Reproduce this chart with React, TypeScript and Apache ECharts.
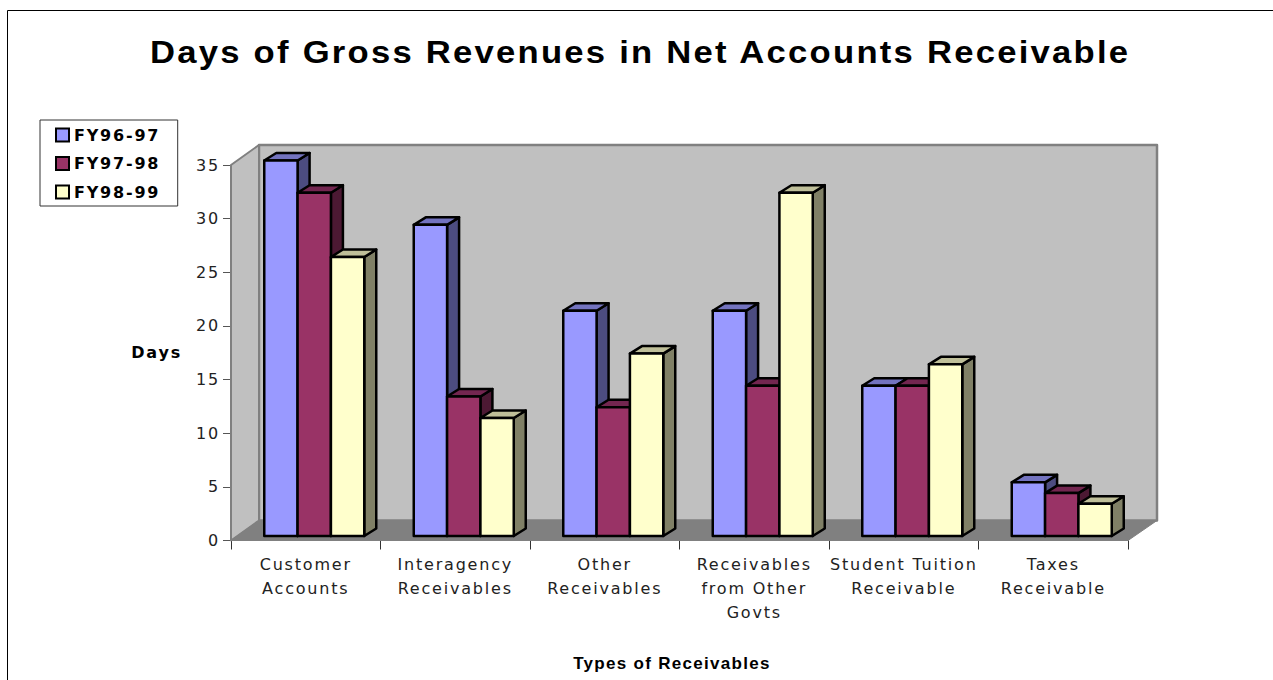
import React, { useEffect, useRef } from "react";
import * as echarts from "echarts";

const titleText = "Days of Gross Revenues in Net Accounts Receivable";
const categories = [
  "Customer\nAccounts",
  "Interagency\nReceivables",
  "Other\nReceivables",
  "Receivables\nfrom Other\nGovts",
  "Student Tuition\nReceivable",
  "Taxes\nReceivable",
];
const seriesNames = ["FY96-97", "FY97-98", "FY98-99"];
const fy9697 = [35, 29, 21, 21, 14, 5];
const fy9798 = [32, 13, 12, 14, 14, 4];
const fy9899 = [26, 11, 17, 32, 16, 3];
const seriesValues = [fy9697, fy9798, fy9899];
const frontColors = ["#9999FF", "#993366", "#FFFFCC"];
const topColors = ["#7373BF", "#732650", "#BFBF99"];
const sideColors = ["#4C4C80", "#4C1933", "#808066"];

const WALL_DX = 28;
const WALL_DY = 20;
const BAR_DX = 12;
const BAR_DY = 7.5;
const BAR_SHIFT_X = 8.5;
const BAR_SHIFT_Y = 4.5;
const BAR_FRACTION = 100 / 149.5 / 3;

const poly = (points: number[][], fill: string, stroke: string, lineWidth: number) => ({
  type: "polygon",
  shape: { points },
  style: { fill, stroke, lineWidth, lineJoin: "round" },
});

function renderWalls(_params: any, api: any) {
  const band = api.size([1, 0])[0];
  const [c0, t] = api.coord([0, 35]);
  const [c5, b] = api.coord([5, 0]);
  const l = c0 - band / 2;
  const r = c5 + band / 2;
  const dx = WALL_DX;
  const dy = -WALL_DY;
  return {
    type: "group",
    children: [
      poly([[l + dx, t + dy], [r + dx + 1, t + dy], [r + dx + 1, b + dy], [l + dx, b + dy]], "#C0C0C0", "#808080", 2.5),
      poly([[l, t], [l + dx, t + dy], [l + dx, b + dy], [l, b]], "#C0C0C0", "#808080", 2),
      poly([[l, b], [l + dx, b + dy], [r + dx + 1, b + dy], [r, b]], "#808080", "#808080", 1),
    ],
  };
}

const makeRenderBar = (s: number) => (_params: any, api: any) => {
  const idx = api.value(0);
  const val = api.value(1);
  const [cx, top0] = api.coord([idx, val]);
  const [, base0] = api.coord([idx, 0]);
  const bw = api.size([1, 0])[0] * BAR_FRACTION;
  const x0 = cx + BAR_SHIFT_X + (s - 1.5) * bw;
  const x1 = x0 + bw;
  const top = top0 - BAR_SHIFT_Y;
  const base = base0 - BAR_SHIFT_Y;
  return {
    type: "group",
    children: [
      poly([[x1, top], [x1 + BAR_DX, top - BAR_DY], [x1 + BAR_DX, base - BAR_DY], [x1, base]], sideColors[s], "#000", 2.5),
      poly([[x0, top], [x0 + BAR_DX, top - BAR_DY], [x1 + BAR_DX, top - BAR_DY], [x1, top]], topColors[s], "#000", 2.5),
      poly([[x0, top], [x1, top], [x1, base], [x0, base]], frontColors[s], "#000", 2.5),
    ],
  };
};

export default function App() {
  const ref = useRef<HTMLDivElement>(null);
  useEffect(() => {
    const chart = echarts.init(ref.current!, null, { renderer: "svg" });
    chart.setOption({
      animation: false,
      backgroundColor: "#fff",
      legend: {
        orient: "vertical",
        left: 40,
        top: 120,
        padding: [7, 30, 6, 15],
        itemGap: 12.5,
        itemWidth: 13,
        itemHeight: 13,
        backgroundColor: "#fff",
        borderColor: "#333",
        borderWidth: 1,
        selectedMode: false,
        data: seriesNames.map((name) => ({ name, icon: "rect" })),
        itemStyle: { borderColor: "#000", borderWidth: 2 },
        textStyle: { fontFamily: "DejaVu Sans", fontWeight: "bold", fontSize: 16, color: "#000", lineHeight: 15 },
      },
      grid: { left: 231, right: 145, top: 165, bottom: 139.5, outerBoundsMode: "none" },
      xAxis: {
        type: "category",
        data: categories,
        axisLine: { lineStyle: { color: "#000", width: 1 } },
        axisTick: { show: true, length: 9, lineStyle: { color: "#333" } },
        axisLabel: {
          interval: 0,
          fontFamily: "DejaVu Sans",
          fontSize: 16,
          color: "#222",
          lineHeight: 24,
          margin: 12,
        },
        name: "Types of Receivables",
        nameLocation: "middle",
        nameGap: 114,
        nameTextStyle: { fontFamily: "Liberation Sans", fontWeight: "bold", fontSize: 17, color: "#000", padding: [0, 15, 0, 0] },
      },
      yAxis: {
        type: "value",
        min: 0,
        max: 35,
        interval: 5,
        splitLine: { show: false },
        axisLine: { show: true, lineStyle: { color: "#555", width: 1 } },
        axisTick: { show: true, length: 8, lineStyle: { color: "#555" } },
        axisLabel: { fontFamily: "DejaVu Sans", fontSize: 16, color: "#222", margin: 11 },
        name: "Days",
        nameLocation: "middle",
        nameRotate: 0,
        nameGap: 49,
        nameTextStyle: { fontFamily: "DejaVu Sans", fontWeight: "bold", fontSize: 16, color: "#000" },
      },
      graphic: [
        {
          type: "polyline",
          shape: { points: [[7.5, 680], [7.5, 10.5], [1273, 10.5]] },
          style: { fill: "none", stroke: "#000", lineWidth: 1 },
          silent: true,
        },
        {
          type: "text",
          x: 150,
          y: 52,
          scaleX: 1.118,
          silent: true,
          style: {
            text: titleText,
            fontFamily: "Liberation Sans",
            fontWeight: "bold",
            fontSize: 31,
            fill: "#000",
            verticalAlign: "middle",
          },
        },
      ],
      series: [
        {
          type: "custom",
          name: "walls",
          z: 1,
          silent: true,
          renderItem: renderWalls,
          encode: { x: 0, y: 1 },
          data: [[0, 0]],
        },
        ...seriesNames.map((name, s) => ({
          type: "custom",
          name,
          z: 3 + s,
          silent: true,
          itemStyle: { color: frontColors[s] },
          renderItem: makeRenderBar(s),
          encode: { x: 0, y: 1 },
          data: seriesValues[s].map((v, i) => [i, v]),
        })),
      ],
    });
    return () => chart.dispose();
  }, []);
  return (
    <>
      <style>{`
        #c text { letter-spacing: 1.8px; }
        #c text[style*="bold 16px"] { letter-spacing: 3px; }
        #c text[style*="31px"] { letter-spacing: 2px; }
        #c text[style*="17px"] { letter-spacing: 1.3px; }
      `}</style>
      <div id="c" ref={ref} style={{ position: "fixed", left: 0, top: 0, width: 1273, height: 680 }} />
    </>
  );
}
